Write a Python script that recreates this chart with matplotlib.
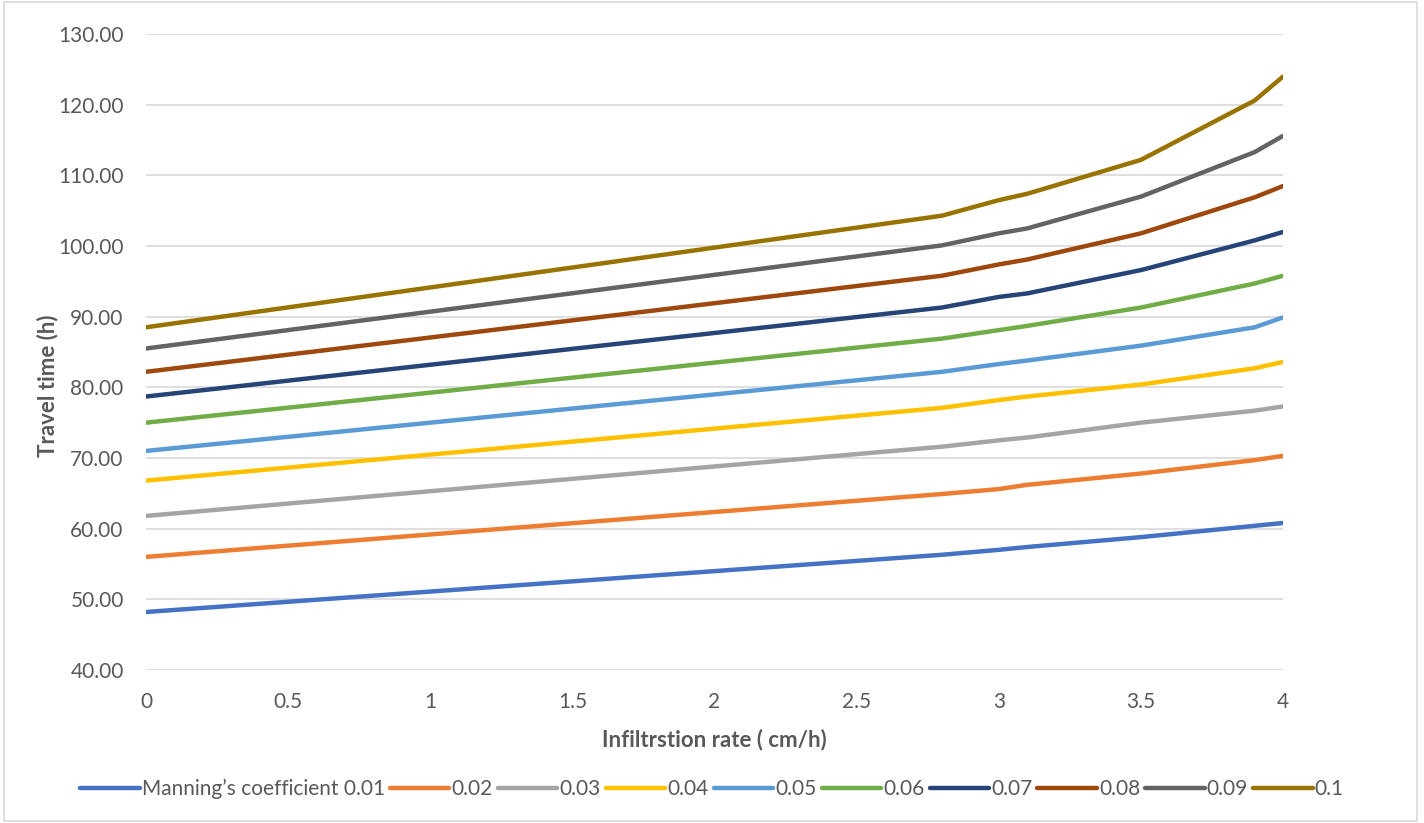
import matplotlib
matplotlib.use("Agg")
import matplotlib.pyplot as plt
from matplotlib.patches import Rectangle
from matplotlib.ticker import FormatStrFormatter, MultipleLocator

plt.rcParams['font.family'] = ['Lato', 'DejaVu Sans']

# infiltration rate (cm/h)
rate = [0, 2.8, 3.0, 3.1, 3.5, 3.9, 4.0]

# travel time (h) per Manning's coefficient
n001 = [48.2, 56.3, 57.0, 57.4, 58.8, 60.4, 60.8]
n002 = [56.0, 64.9, 65.6, 66.2, 67.8, 69.7, 70.3]
n003 = [61.8, 71.6, 72.5, 72.9, 75.0, 76.7, 77.3]
n004 = [66.8, 77.1, 78.2, 78.7, 80.4, 82.7, 83.6]
n005 = [71.0, 82.2, 83.3, 83.8, 85.9, 88.5, 89.9]
n006 = [75.0, 86.9, 88.1, 88.7, 91.3, 94.7, 95.8]
n007 = [78.7, 91.3, 92.8, 93.3, 96.6, 100.8, 102.0]
n008 = [82.2, 95.8, 97.4, 98.1, 101.8, 106.9, 108.5]
n009 = [85.5, 100.1, 101.8, 102.5, 107.0, 113.3, 115.6]
n010 = [88.5, 104.3, 106.5, 107.4, 112.2, 120.6, 124.0]

series = [n001, n002, n003, n004, n005, n006, n007, n008, n009, n010]
labels = ["Manning\u2019s coefficient 0.01", "0.02", "0.03", "0.04", "0.05",
          "0.06", "0.07", "0.08", "0.09", "0.1"]
colors = ["#4472C4", "#ED7D31", "#A5A5A5", "#FFC000", "#5B9BD5",
          "#70AD47", "#264478", "#9E480E", "#636363", "#997300"]

txt = "#595959"

fig = plt.figure(figsize=(14.24, 8.23), dpi=100)
ax = fig.add_axes([0.1025, 0.186, 0.7985, 0.7725])

for ys, lab, c in zip(series, labels, colors):
    ax.plot(rate, ys, color=c, lw=3.2, label=lab, solid_capstyle='round')

ax.set_xlim(0, 4)
ax.set_ylim(40, 130)
ax.xaxis.set_major_locator(MultipleLocator(0.5))
ax.yaxis.set_major_locator(MultipleLocator(10))
ax.yaxis.set_major_formatter(FormatStrFormatter('%.2f'))
ax.xaxis.set_major_formatter(lambda v, p: f"{v:g}")
ax.grid(axis='y', color='#D9D9D9', lw=1.2)
ax.set_axisbelow(True)
for s in ax.spines.values():
    s.set_visible(False)
ax.tick_params(length=0, labelsize=15, colors=txt, pad=16)
ax.tick_params(axis='y', pad=16)

ax.set_xlabel("Infiltrstion rate ( cm/h)", fontsize=16, fontweight='bold',
              color=txt, labelpad=12)
ax.set_ylabel("Travel time (h)", fontsize=16, fontweight='bold',
              color=txt, labelpad=1)
ax.yaxis.set_label_coords(-0.077, 0.447)

ax.legend(loc='center', bbox_to_anchor=(0.5, 0.041), bbox_transform=fig.transFigure,
          ncol=10, frameon=False, fontsize=15, handlelength=2.85,
          handletextpad=0.1, columnspacing=0.25, labelcolor=txt)

fig.patches.append(Rectangle((0.003, 0.003), 0.992, 0.994, transform=fig.transFigure,
                             fill=False, edgecolor='#D9D9D9', lw=1.2))

fig.savefig("out.png", dpi=100)
